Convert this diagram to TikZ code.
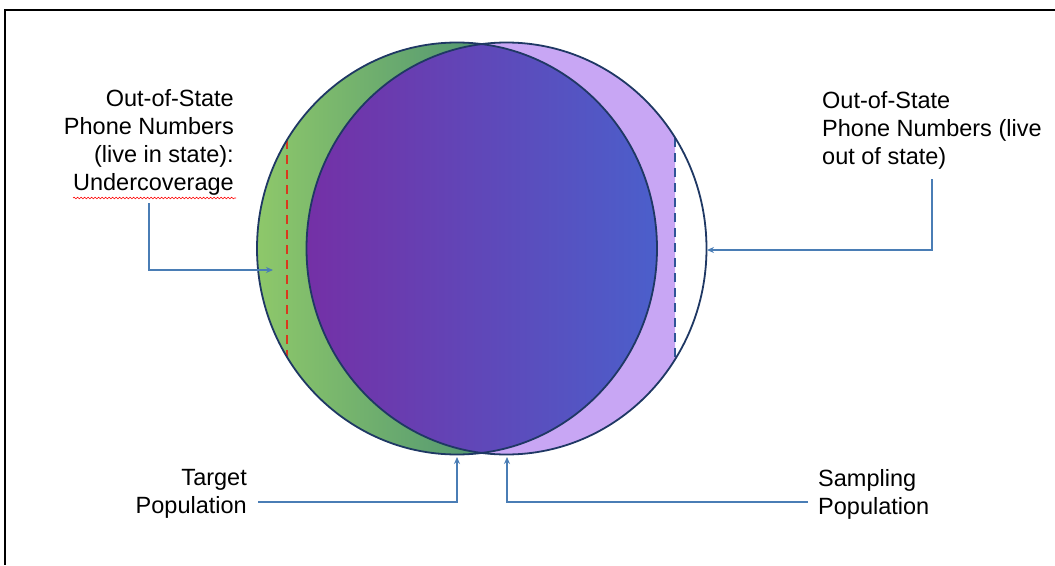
\documentclass[tikz,border=0pt]{standalone}
\usepackage{fontspec}
\setmainfont{Liberation Sans}
\usepackage{tikz}
\usetikzlibrary{arrows.meta,decorations.pathmorphing}
\definecolor{SPNavy}{HTML}{1F3864}
\definecolor{SPGreenL}{HTML}{8EC86A}
\definecolor{SPGreenR}{HTML}{237078}
\definecolor{SPPurple}{HTML}{7430A6}
\definecolor{SPBlue}{HTML}{4B5FCB}
\definecolor{SPLav}{HTML}{C8A6F4}
\definecolor{SPLink}{HTML}{4A7DB5}
\definecolor{SPRed}{HTML}{D9381E}
\definecolor{SPDash}{HTML}{2F5597}
\tikzset{
  lbl/.style={inner sep=0pt,font=\fontsize{23.5}{28}\selectfont},
  link/.style={SPLink,line width=1.4pt,-{Stealth[length=7pt,width=6pt]}},
  rim/.style={SPNavy,line width=1.8pt},
}

\begin{document}
\begin{tikzpicture}[x=1pt,y=-1pt]
\path[use as bounding box] (0,0) rectangle (1055,565);
\draw[line width=2.4pt] (1055,10) -- (5,10) -- (5,565);
% the two populations
\coordinate (tgtC) at (457,248.5);
\coordinate (smpC) at (506.5,248.5);
\shade[left color=SPGreenL,right color=SPGreenR] (tgtC) ellipse [x radius=200,y radius=206];
\begin{scope}
\clip (0,0) rectangle (675,565);
\fill[SPLav] (smpC) ellipse [x radius=200,y radius=206];
\end{scope}
\begin{scope}
\clip (tgtC) ellipse [x radius=200,y radius=206];
\clip (smpC) ellipse [x radius=200,y radius=206];
\shade[left color=SPPurple,right color=SPBlue] (306.5,40) rectangle (657,458);
\end{scope}
\draw[SPRed,line width=2.6pt,dash pattern=on 9pt off 6pt] (287,140) -- (287,357);
\draw[SPDash,line width=2.4pt,dash pattern=on 9pt off 6pt] (675,138) -- (675,359);
\draw[rim] (tgtC) ellipse [x radius=200,y radius=206];
\draw[rim] (smpC) ellipse [x radius=200,y radius=206];
% labels
\node[lbl,align=right,anchor=north east] (lblUnder) at (234,89) {Out-of-State\\Phone Numbers\\(live in state):\\Undercoverage};
\draw[red,line width=.6pt,decorate,decoration={snake,amplitude=.8pt,segment length=3.5pt}] (73,198) -- (236,198);
\node[lbl,align=left,anchor=north west] (lblOut) at (822,91) {Out-of-State\\Phone Numbers (live\\out of state)};
\node[lbl,align=right,anchor=north east] (lblTgt) at (247,469) {Target\\Population};
\node[lbl,align=left,anchor=north west] (lblSmp) at (818,469) {Sampling\\Population};
% connectors
\coordinate (underTip) at (273,270);
\coordinate (outTip) at (707,250);
\coordinate (tgtFoot) at (258,502);
\coordinate (tgtTip) at (457,457);
\coordinate (smpFoot) at (808,502);
\coordinate (smpTip) at (507,457);
\draw[link] ([yshift=-8pt]lblUnder.south) |- (underTip);
\draw[link] ([yshift=-10pt]lblOut.south) |- (outTip);
\draw[link] (tgtFoot) -| (tgtTip);
\draw[link] (smpFoot) -| (smpTip);
\end{tikzpicture}
\end{document}
